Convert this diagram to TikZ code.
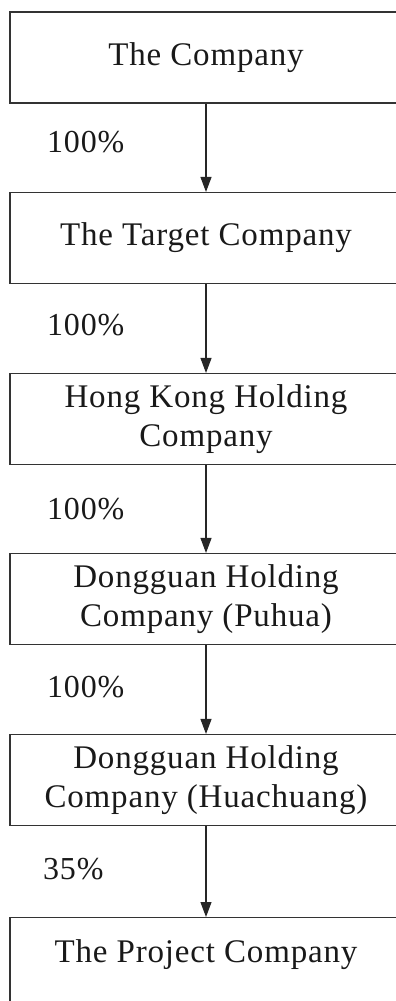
\documentclass[tikz,border=0pt]{standalone}
\usepackage{fontspec}
\setmainfont{Liberation Serif}[LetterSpace=2.5]
\usetikzlibrary{arrows.meta}
\begin{document}
\begin{tikzpicture}[x=1pt,y=1pt,
  entity/.style={draw=black!80, line width=1.1pt, minimum width=392pt,
    minimum height=91pt, inner sep=0pt, align=center,
    font=\fontsize{33}{39}\selectfont, text=black!90},
  own/.style={-{Triangle[length=15pt,width=11pt]}, draw=black!85, line width=1.1pt},
  pct/.style={anchor=west, inner sep=0pt, font=\fontsize{32}{37}\selectfont, text=black!90}]
\useasboundingbox (0,0) rectangle (396,-1001);

% ownership chain
\node[entity] (c1) at (206,-57.5) {The Company};
\node[entity] (c2) at (206,-238) {The Target Company};
\node[entity] (c3) at (206,-419) {Hong Kong Holding\\Company};
\node[entity] (c4) at (206,-599) {Dongguan Holding\\Company (Puhua)};
\node[entity] (c5) at (206,-780) {Dongguan Holding\\Company (Huachuang)};
\node[entity, anchor=north, text height=45pt, text depth=48pt] (c6) at (206,-917) {The Project Company};

% shareholdings
\draw[own] (c1) -- (c2);
\draw[own] (c2) -- (c3);
\draw[own] (c3) -- (c4);
\draw[own] (c4) -- (c5);
\draw[own] (c5) -- (c6);

\node[pct] (p1) at (47,-142.5) {100\%};
\node[pct] (p2) at (47,-325) {100\%};
\node[pct] (p3) at (47,-509) {100\%};
\node[pct] (p4) at (47,-687) {100\%};
\node[pct] (p5) at (43,-869) {35\%};
\end{tikzpicture}
\end{document}
